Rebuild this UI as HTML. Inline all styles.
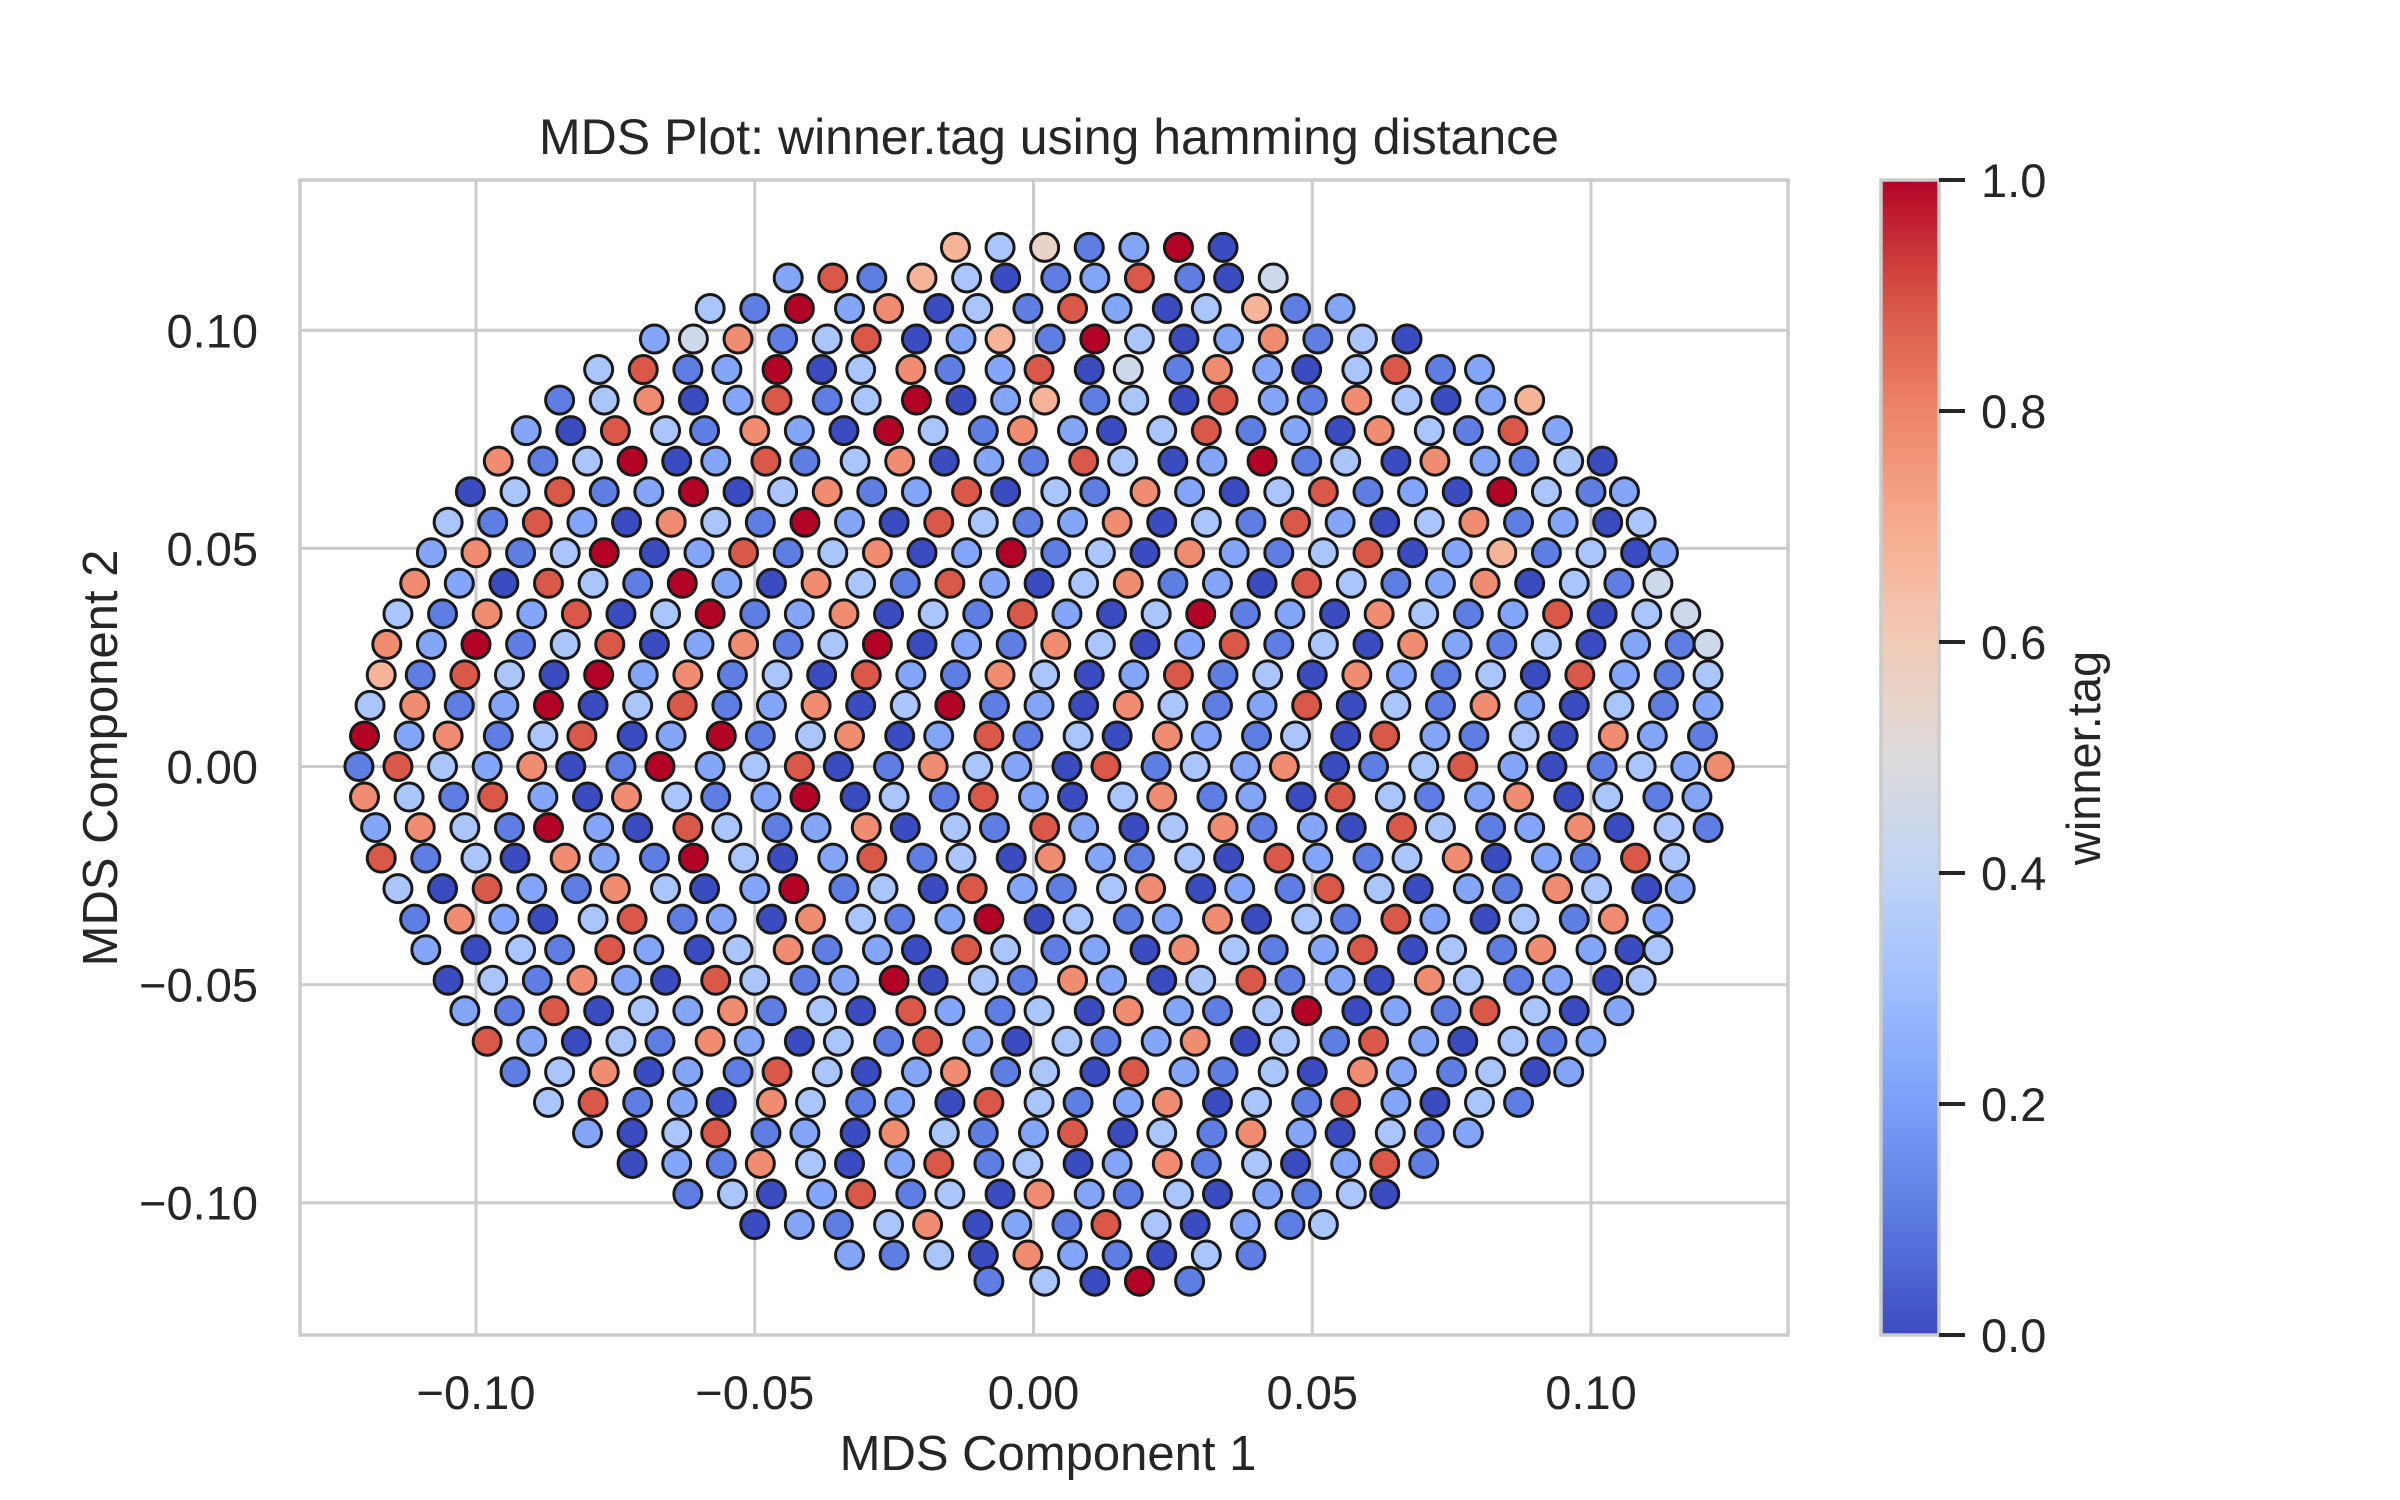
<!DOCTYPE html>
<html><head><meta charset="utf-8"><style>
html,body{margin:0;padding:0;background:#fff}
svg{display:block}
text{font-family:"Liberation Sans",Arial,sans-serif;fill:#262626}
</style></head><body>
<svg id="chart" width="2400" height="1500" viewBox="0 0 2400 1500" xmlns="http://www.w3.org/2000/svg">
<defs>
<linearGradient id="cmap" x1="0" y1="1" x2="0" y2="0">
<stop offset="0" stop-color="#3b4cc0"/><stop offset="0.1" stop-color="#5b7ae1"/><stop offset="0.2" stop-color="#7b9ff9"/><stop offset="0.3" stop-color="#9ebeff"/><stop offset="0.4" stop-color="#c0d4f5"/><stop offset="0.5" stop-color="#dddcdc"/><stop offset="0.6" stop-color="#f2cbb7"/><stop offset="0.7" stop-color="#f7ac8e"/><stop offset="0.8" stop-color="#ee8468"/><stop offset="0.9" stop-color="#d65244"/><stop offset="1" stop-color="#b40426"/>
</linearGradient>
</defs>
<g id="grid"></g>
<g id="points"></g>
<rect x="300" y="180" width="1488" height="1155" fill="none" stroke="#cccccc" stroke-width="3.5"/>
<g id="xticks"></g>
<g id="yticks"></g>
<text x="1049" y="154" font-size="50" text-anchor="middle">MDS Plot: winner.tag using hamming distance</text>
<text x="1048" y="1470" font-size="49" text-anchor="middle">MDS Component 1</text>
<text x="0" y="0" font-size="49" text-anchor="middle" transform="translate(117,758) rotate(-90)">MDS Component 2</text>
<rect x="1881" y="180" width="58" height="1155" fill="url(#cmap)" stroke="#cccccc" stroke-width="3.5"/>
<g id="cbticks"></g>
<text x="0" y="0" font-size="47" text-anchor="middle" transform="translate(2100,758) rotate(-90)">winner.tag</text>
</svg>
<script>
const xTicks = [-0.10, -0.05, 0.00, 0.05, 0.10];
const xTickLabels = ["\u22120.10", "\u22120.05", "0.00", "0.05", "0.10"];
const yTicks = [0.10, 0.05, 0.00, -0.05, -0.10];
const yTickLabels = ["0.10", "0.05", "0.00", "\u22120.05", "\u22120.10"];
const cbTicks = [0.0, 0.2, 0.4, 0.6, 0.8, 1.0];
const cbTickLabels = ["0.0", "0.2", "0.4", "0.6", "0.8", "1.0"];
// row y values (thousandths of MDS component 2)
const rowY = [119,112,105,98,91,84,77,70,63,56,49,42,35,28,21,14,7,0,-7,-14,-21,-28,-35,-42,-49,-56,-63,-70,-77,-84,-91,-98,-105,-112,-118];
// per row: "x:tag" with x in thousandths and tag in ninths (0..9)
const rowPts = [
"-14:6 -6:3 2:5 10:1 18:2 26:9 34:0",
"-44:2 -36:8 -29:1 -20:6 -12:3 -5:0 4:1 11:2 19:8 28:1 35:0 43:4",
"-58:3 -50:1 -42:9 -33:2 -26:7 -17:0 -10:3 -1:1 7:8 15:2 24:0 31:3 40:6 47:1 55:2",
"-68:2 -61:4 -53:7 -45:1 -37:3 -30:8 -21:0 -13:2 -6:6 3:1 11:9 19:3 27:0 35:2 43:7 51:1 59:3 67:0",
"-78:3 -70:8 -62:1 -55:2 -46:9 -38:0 -31:3 -22:7 -15:1 -6:2 1:8 10:0 17:4 26:1 33:7 42:2 49:0 58:3 65:8 73:1 80:2",
"-85:1 -77:3 -69:7 -61:0 -53:2 -46:8 -37:1 -30:3 -21:9 -13:0 -5:2 2:6 11:1 18:3 27:0 34:8 43:2 50:1 58:7 67:3 74:0 82:2 89:6",
"-91:2 -83:0 -75:8 -66:3 -59:1 -50:7 -42:2 -34:0 -26:9 -18:3 -9:1 -2:7 7:2 14:0 23:3 31:8 39:1 47:2 55:0 62:7 71:3 78:1 86:8 94:2",
"-96:7 -88:1 -80:3 -72:9 -64:0 -57:2 -48:8 -41:1 -32:3 -24:7 -16:0 -8:2 0:1 9:8 16:3 25:0 32:2 41:9 49:1 56:3 65:0 72:7 81:2 88:1 96:3 102:0",
"-101:0 -93:3 -85:8 -77:1 -69:2 -61:9 -53:0 -45:3 -37:7 -29:1 -21:2 -12:8 -5:0 4:3 11:1 20:7 28:2 36:0 44:3 52:8 60:1 68:2 76:0 84:9 92:3 100:1 106:2",
"-105:3 -97:1 -89:8 -81:2 -73:0 -65:7 -57:3 -49:1 -41:9 -33:2 -25:0 -17:8 -9:3 -1:1 7:2 15:7 23:0 31:3 39:1 47:8 55:2 63:0 71:3 79:7 87:1 95:2 103:0 109:3",
"-108:2 -100:7 -92:1 -84:3 -77:9 -68:0 -60:2 -52:8 -44:1 -36:3 -28:7 -20:0 -12:2 -4:9 4:1 12:3 20:0 28:7 36:2 44:1 52:3 60:8 68:0 76:2 84:6 92:1 100:3 108:0 113:2",
"-111:7 -103:2 -95:0 -87:8 -79:3 -71:1 -63:9 -55:2 -47:0 -39:7 -31:3 -23:1 -15:8 -7:2 1:0 9:3 17:7 25:1 33:2 41:0 49:8 57:3 65:1 73:2 81:7 89:0 97:3 105:1 112:4",
"-114:3 -106:1 -98:7 -90:2 -82:8 -74:0 -66:3 -58:9 -50:1 -42:2 -34:7 -26:0 -18:3 -10:1 -2:8 6:2 14:0 22:3 30:9 38:1 46:2 54:0 62:7 70:3 78:1 86:2 94:8 102:0 110:3 117:4",
"-116:7 -108:2 -100:9 -92:1 -84:3 -76:8 -68:0 -60:2 -52:7 -44:1 -36:3 -28:9 -20:0 -12:2 -4:1 4:7 12:3 20:0 28:2 36:8 44:1 52:3 60:0 68:7 76:2 84:1 92:3 100:0 108:2 116:1 121:4",
"-117:6 -110:1 -102:8 -94:3 -86:0 -78:9 -70:2 -62:7 -54:1 -46:3 -38:0 -30:8 -22:2 -14:1 -6:7 2:3 10:0 18:2 26:8 34:1 42:3 50:0 58:7 66:2 74:1 82:3 90:0 98:8 106:2 114:1 121:3",
"-119:3 -111:7 -103:1 -95:2 -87:9 -79:0 -71:3 -63:8 -55:1 -47:2 -39:7 -31:0 -23:3 -15:9 -7:1 1:2 9:0 17:7 25:3 33:1 41:2 49:8 57:0 65:3 73:1 81:7 89:2 97:0 105:3 113:1 121:2",
"-120:9 -112:2 -105:7 -96:1 -88:3 -81:8 -72:0 -65:2 -56:9 -49:1 -40:3 -33:7 -24:0 -17:2 -8:8 -1:1 8:3 15:0 24:7 31:2 40:1 47:3 56:0 63:8 72:2 79:1 88:3 95:0 104:7 111:2 120:1",
"-121:1 -114:8 -106:3 -98:2 -90:7 -83:0 -74:1 -67:9 -58:2 -50:3 -42:8 -35:0 -26:1 -18:7 -10:3 -3:2 6:0 13:8 22:1 29:3 38:2 45:7 54:0 61:1 70:3 77:8 86:2 93:0 102:1 109:3 117:2 123:7",
"-120:7 -112:3 -104:1 -97:8 -88:2 -80:0 -73:7 -64:3 -57:1 -48:2 -41:9 -32:0 -25:3 -16:1 -9:8 0:2 7:0 16:3 23:7 32:1 39:2 48:0 55:8 64:3 71:1 80:2 87:7 96:0 103:3 112:1 119:2",
"-118:2 -110:7 -102:3 -94:1 -87:9 -78:2 -71:0 -62:8 -55:3 -46:1 -39:2 -30:7 -23:0 -14:3 -7:1 2:8 9:2 18:0 25:3 34:7 41:1 50:2 57:0 66:8 73:3 82:1 89:2 98:7 105:0 114:3 121:1",
"-117:8 -109:1 -100:3 -93:0 -84:7 -77:2 -68:1 -61:9 -52:3 -45:0 -36:2 -29:8 -20:1 -13:3 -4:0 3:7 12:2 19:1 28:3 35:0 44:8 51:2 60:1 67:3 76:7 83:0 92:2 99:1 108:8 115:3",
"-114:3 -106:0 -98:8 -90:2 -82:1 -75:7 -66:3 -59:0 -50:2 -43:9 -34:1 -27:3 -18:0 -11:8 -2:2 5:1 14:3 21:7 30:0 37:2 46:1 53:8 62:3 69:0 78:2 85:1 94:7 101:3 110:0 116:2",
"-111:1 -103:7 -95:2 -88:0 -79:3 -72:8 -63:1 -56:2 -47:0 -40:7 -31:3 -24:1 -15:2 -8:9 1:0 8:3 17:1 24:2 33:7 40:0 49:3 56:1 65:8 72:2 81:0 88:3 97:1 104:7 112:2",
"-109:2 -100:0 -92:3 -85:1 -76:8 -69:2 -60:0 -53:3 -44:7 -37:1 -28:2 -21:0 -12:8 -5:3 4:1 11:2 20:0 27:7 36:3 43:1 52:2 59:8 68:0 75:3 84:1 91:7 100:2 107:0 112:3",
"-105:0 -97:3 -89:1 -81:7 -73:2 -66:0 -57:8 -50:3 -41:1 -34:2 -25:9 -18:0 -9:3 -2:1 7:7 14:2 23:0 30:3 39:8 46:1 55:2 62:0 71:7 78:3 87:1 94:2 103:0 109:3",
"-102:2 -94:1 -86:8 -78:0 -70:3 -62:2 -54:7 -47:1 -38:3 -31:0 -22:8 -15:2 -6:1 1:3 10:0 17:7 26:2 33:1 42:3 49:9 58:0 65:2 74:1 81:8 90:3 97:0 105:2",
"-98:8 -90:2 -82:0 -74:3 -67:1 -58:7 -51:2 -42:0 -35:3 -26:1 -19:8 -10:2 -3:0 6:3 13:1 22:2 29:7 38:0 45:3 54:1 61:8 70:2 77:0 86:3 93:1 100:2",
"-93:1 -85:3 -77:7 -69:0 -62:2 -53:1 -46:8 -37:3 -30:0 -21:2 -14:7 -5:1 2:3 11:0 18:8 27:2 34:1 43:3 50:0 59:7 66:2 75:1 82:3 90:0 96:2",
"-87:3 -79:8 -71:1 -63:2 -56:0 -47:7 -40:3 -31:1 -24:2 -15:0 -8:8 1:3 8:1 17:2 24:7 33:0 40:3 49:1 56:8 65:2 72:0 80:3 87:1",
"-80:2 -72:0 -64:3 -57:8 -48:1 -41:2 -32:0 -25:7 -16:3 -9:1 0:2 7:8 16:0 23:3 32:1 39:7 48:2 55:0 64:3 71:1 78:2",
"-72:0 -64:2 -56:1 -49:7 -40:3 -33:0 -24:2 -17:8 -8:1 -1:3 8:0 15:2 24:7 31:1 40:3 47:0 56:2 63:8 70:1",
"-62:1 -54:3 -47:0 -38:2 -31:8 -22:1 -15:3 -6:0 1:7 10:2 17:1 26:3 33:0 42:2 49:1 57:3 63:0",
"-50:0 -42:2 -35:1 -26:3 -19:7 -10:0 -3:2 6:1 13:8 22:3 29:0 38:2 46:1 52:3",
"-33:2 -25:1 -17:3 -9:0 -1:7 7:2 15:1 23:0 31:3 39:1",
"-8:1 2:3 11:0 19:9 28:1"
];

const X0 = 1033.5, XS = 5575;   // px per data unit
const Y0 = 766.5, YS = 4362;
function sx(v){ return X0 + v*XS; }
function sy(v){ return Y0 - v*YS; }
const cbTop = 180, cbBot = 1335;
function scb(v){ return cbBot - v*(cbBot-cbTop); }

const stops = [[59,76,192],[91,122,225],[123,159,249],[158,190,255],[192,212,245],[221,220,220],[242,203,183],[247,168,137],[238,132,104],[214,82,68],[180,4,38]];
function cmap(t){
  t=Math.max(0,Math.min(1,t))*10; const i=Math.min(9,Math.floor(t)); const f=t-i;
  const a=stops[i], b=stops[i+1];
  return 'rgb('+a.map((c,k)=>Math.round(c+(b[k]-c)*f)).join(',')+')';
}
const NS='http://www.w3.org/2000/svg';
function mk(tag, attrs, parent){
  const e=document.createElementNS(NS,tag);
  for(const k in attrs) e.setAttribute(k, attrs[k]);
  parent.appendChild(e); return e;
}
const grid=document.getElementById('grid');
xTicks.forEach(v=>{
  const l=mk('line',{x1:sx(v),x2:sx(v),y1:180,y2:1335,stroke:'#cccccc','stroke-width':3},grid);
  
  
});
yTicks.forEach(v=>{
  const l=mk('line',{x1:300,x2:1788,y1:sy(v),y2:sy(v),stroke:'#cccccc','stroke-width':3},grid);
  
  
});
const xt=document.getElementById('xticks');
xTicks.forEach((v,i)=>{
  const t=mk('text',{x:sx(v),y:1409,'font-size':47,'text-anchor':'middle'},xt);
  t.textContent=xTickLabels[i];
  
  
});
const yt=document.getElementById('yticks');
yTicks.forEach((v,i)=>{
  const t=mk('text',{x:258,y:sy(v)+17,'font-size':47,'text-anchor':'end'},yt);
  t.textContent=yTickLabels[i];
  
  
});
const cbt=document.getElementById('cbticks');
cbTicks.forEach((v,i)=>{
  const l=mk('line',{x1:1939,x2:1965,y1:scb(v),y2:scb(v),stroke:'#262626','stroke-width':4},cbt);
  
  
  const t=mk('text',{x:1981,y:scb(v)+17,'font-size':47},cbt);
  t.textContent=cbTickLabels[i];
  
  
});
const pg=document.getElementById('points');
rowY.forEach((yv,r)=>{
  rowPts[r].trim().split(/\s+/).forEach(tok=>{
    const p=tok.split(':');
    const xv=parseFloat(p[0])/1000, c=parseFloat(p[1])/9;
    const el=mk('circle',{cx:sx(xv),cy:sy(yv/1000),r:14,fill:cmap(c),stroke:'#1a1a1a','stroke-width':3},pg);
    
    
  });
});
</script>
</body></html>
